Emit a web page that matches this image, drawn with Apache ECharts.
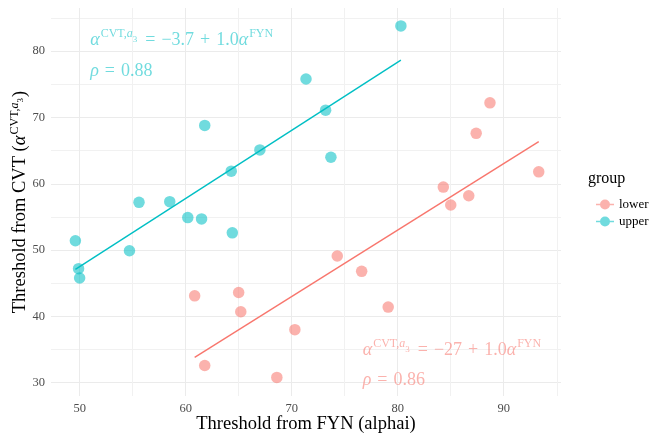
<!DOCTYPE html>
<html>
<head>
<meta charset="utf-8">
<script src="https://cdn.jsdelivr.net/npm/echarts@6/dist/echarts.min.js"></script>
<style>
  html, body { margin: 0; padding: 0; background: #ffffff; }
  #chart { width: 649px; height: 433px; }
</style>
</head>
<body>
<div id="chart"></div>
<script>
// Thresholds per site: FYN (alphai) on x, CVT (alpha^{CVT,a3}) on y
const groups = ['lower', 'upper'];

const lowerX = [60.85, 61.8, 65.0, 65.2, 68.6, 70.3, 74.3, 76.6, 79.1, 84.3, 85.0, 86.7, 87.4, 88.7, 93.3];
const lowerY = [43.1, 32.6, 43.6, 40.7, 30.8, 38.0, 49.1, 46.8, 41.4, 59.5, 56.8, 58.2, 67.6, 72.2, 61.8];

const upperX = [49.6, 49.9, 50.0, 54.7, 55.6, 58.5, 60.2, 61.5, 61.8, 64.4, 64.3, 67.0, 71.35, 73.2, 73.7, 80.3];
const upperY = [51.4, 47.2, 45.8, 49.9, 57.2, 57.3, 54.9, 54.7, 68.8, 52.6, 61.9, 65.1, 75.8, 71.1, 64.0, 83.8];

const xMajorTicks = [50, 60, 70, 80, 90];
const xMinorTicks = [55, 65, 75, 85, 95];
const yMajorTicks = [30, 40, 50, 60, 70, 80];
const yMinorTicks = [35, 45, 55, 65, 75, 85];

const colors = { lower: '#F8766D', upper: '#00BFC4' };
const soft = { lower: 'rgba(248,118,109,0.7)', upper: 'rgba(0,191,196,0.7)' };

// ordinary least squares fit, drawn over each group's x range
function olsLine(xs, ys) {
  const n = xs.length;
  const mx = xs.reduce((a, b) => a + b, 0) / n;
  const my = ys.reduce((a, b) => a + b, 0) / n;
  let sxy = 0, sxx = 0;
  for (let i = 0; i < n; i++) { sxy += (xs[i] - mx) * (ys[i] - my); sxx += (xs[i] - mx) ** 2; }
  const b = sxy / sxx, a = my - b * mx;
  const lo = Math.min(...xs), hi = Math.max(...xs);
  return [[lo, a + b * lo], [hi, a + b * hi]];
}

const zip = (xs, ys) => xs.map((x, i) => [x, ys[i]]);

const serif = 'Liberation Serif';
const mathRich = (c) => ({
  i: { fontFamily: serif, fontStyle: 'italic', fontSize: 18, lineHeight: 19, color: c, verticalAlign: 'bottom' },
  m: { fontFamily: serif, fontSize: 18, lineHeight: 19, color: c, verticalAlign: 'bottom' },
  op: { fontFamily: serif, fontSize: 18, lineHeight: 19, color: c, verticalAlign: 'bottom', padding: [0, 6, 0, 6] },
  s: { fontFamily: serif, fontSize: 12, lineHeight: 13, color: c, verticalAlign: 'bottom', padding: [0, 0, 9, 1] },
  si: { fontFamily: serif, fontStyle: 'italic', fontSize: 12, lineHeight: 13, color: c, verticalAlign: 'bottom', padding: [0, 0, 9, 0] },
  ss: { fontFamily: serif, fontSize: 9, lineHeight: 10, color: c, verticalAlign: 'bottom', padding: [0, 2, 5, 0] }
});

// annotation text anchored in data coordinates
function note(pos, text, color) {
  return {
    type: 'scatter', symbolSize: 0, silent: true, z: 5,
    data: [pos],
    label: { show: true, position: 'right', distance: 0, formatter: text, rich: mathRich(color) }
  };
}

const eqUpper = '{i|α}{s|CVT,}{si|a}{ss|3}{op|=}{m|−3.7}{op|+}{m|1.0}{i|α}{s|FYN}';
const rhoUpper = '{i|ρ}{op|=}{m|0.88}';
const eqLower = '{i|α}{s|CVT,}{si|a}{ss|3}{op|=}{m|−27}{op|+}{m|1.0}{i|α}{s|FYN}';
const rhoLower = '{i|ρ}{op|=}{m|0.86}';

const chart = echarts.init(document.getElementById('chart'), null, { renderer: 'canvas' });

const gridLine = (c, w) => ({ show: true, lineStyle: { color: c, width: w } });
const xBase = { type: 'value', min: 47.3, max: 95.4, axisLine: { show: false }, axisTick: { show: false } };
const yBase = { type: 'value', min: 28.0, max: 86.5, axisLine: { show: false }, axisTick: { show: false } };

chart.setOption({
  animation: false,
  backgroundColor: '#ffffff',
  title: {
    text: 'group', left: 583, top: 166,
    textStyle: { fontFamily: serif, fontSize: 16, fontWeight: 'normal', color: '#000' }
  },
  legend: {
    data: groups, orient: 'vertical', left: 591, top: 193,
    itemWidth: 18, itemHeight: 18, itemGap: 4,
    icon: 'path://M4,9a5,5 0 1,0 10,0a5,5 0 1,0 -10,0Z M0,8.3v1.4h18v-1.4Z',
    textStyle: { fontFamily: serif, fontSize: 13, color: '#000' }
  },
  grid: { left: 51, right: 88, top: 8, bottom: 37, containLabel: false, outerBoundsMode: 'none' },
  xAxis: [
    Object.assign({}, xBase, {
      name: 'Threshold from FYN (alphai)', nameLocation: 'middle', nameGap: 19, nameMoveOverlap: false,
      nameTextStyle: { fontFamily: serif, fontSize: 18.5, color: '#000' },
      axisTick: { show: false, customValues: xMajorTicks },
      axisLabel: { customValues: xMajorTicks, margin: 6, fontFamily: serif, fontSize: 12.5, color: '#4D4D4D' },
      splitLine: gridLine('#EBEBEB', 1)
    }),
    Object.assign({}, xBase, {
      axisTick: { show: false, customValues: xMinorTicks },
      axisLabel: { show: false },
      splitLine: gridLine('#F1F1F1', 1)
    })
  ],
  yAxis: [
    Object.assign({}, yBase, {
      name: '{m|Threshold from CVT (}{i|α}{s|CVT,}{si|a}{ss|3}{m|)}', nameLocation: 'middle', nameGap: 21, nameRotate: 90,
      nameMoveOverlap: false,
      nameTextStyle: {
        rich: {
          m: { fontFamily: serif, fontSize: 18.5, lineHeight: 19, color: '#000', verticalAlign: 'bottom' },
          i: { fontFamily: serif, fontStyle: 'italic', fontSize: 18.5, lineHeight: 19, color: '#000', verticalAlign: 'bottom' },
          s: { fontFamily: serif, fontSize: 12, lineHeight: 13, color: '#000', verticalAlign: 'bottom', padding: [0, 0, 9, 1] },
          si: { fontFamily: serif, fontStyle: 'italic', fontSize: 12, lineHeight: 13, color: '#000', verticalAlign: 'bottom', padding: [0, 0, 9, 0] },
          ss: { fontFamily: serif, fontSize: 9, lineHeight: 10, color: '#000', verticalAlign: 'bottom', padding: [0, 1, 5, 0] }
        }
      },
      axisTick: { show: false, customValues: yMajorTicks },
      axisLabel: { customValues: yMajorTicks, margin: 6, fontFamily: serif, fontSize: 12.5, color: '#4D4D4D' },
      splitLine: gridLine('#EBEBEB', 1)
    }),
    Object.assign({}, yBase, {
      axisTick: { show: false, customValues: yMinorTicks },
      axisLabel: { show: false },
      splitLine: gridLine('#F1F1F1', 1)
    })
  ],
  series: [
    {
      name: 'lower', type: 'scatter', symbolSize: 11.5, z: 3,
      itemStyle: { color: soft.lower },
      data: zip(lowerX, lowerY)
    },
    {
      name: 'upper', type: 'scatter', symbolSize: 11.5, z: 3,
      itemStyle: { color: soft.upper },
      data: zip(upperX, upperY)
    },
    {
      name: 'lower fit', type: 'line', symbol: 'none', z: 4,
      lineStyle: { color: colors.lower, width: 1.4 },
      data: olsLine(lowerX, lowerY)
    },
    {
      name: 'upper fit', type: 'line', symbol: 'none', z: 4,
      lineStyle: { color: colors.upper, width: 1.4 },
      data: olsLine(upperX, upperY)
    },
    note([51.0, 81.7], eqUpper, soft.upper),
    note([51.0, 77.1], rhoUpper, soft.upper),
    note([76.7, 35.0], eqLower, soft.lower),
    note([76.7, 30.4], rhoLower, soft.lower)
  ]
});
</script>
</body>
</html>
